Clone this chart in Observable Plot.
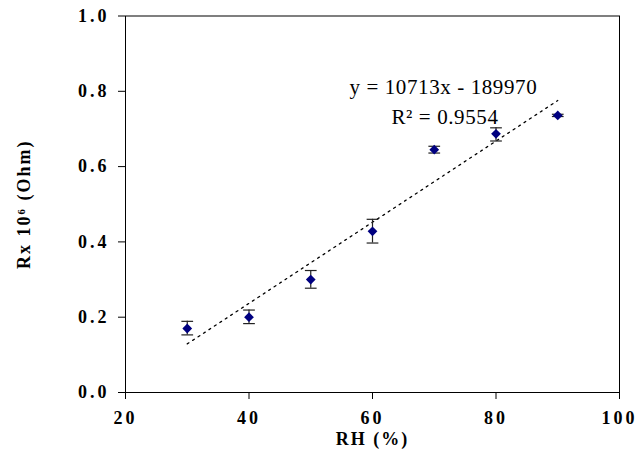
<!DOCTYPE html>
<html>
<head>
<meta charset="utf-8">
<script src="https://cdn.jsdelivr.net/npm/d3@7"></script>
<script src="https://cdn.jsdelivr.net/npm/@observablehq/plot@0.6"></script>
<style>
  html, body { margin: 0; padding: 0; background: #fff; }
  .tickbold text { font-weight: 700 !important; font-family: 'Liberation Serif', 'Times New Roman', serif; }
</style>
</head>
<body>
<div id="chart"></div>
<script>
// Relative humidity (%)
const rh = [30, 40, 50, 60, 70, 80, 90];
// Resistance (x 10^6 Ohm)
const resistance = [0.170, 0.200, 0.300, 0.428, 0.645, 0.687, 0.736];
const errLow  = [0.153, 0.183, 0.277, 0.397, 0.636, 0.668, 0.733];
const errHigh = [0.189, 0.219, 0.324, 0.460, 0.654, 0.703, 0.739];
const xTicks = [20, 40, 60, 80, 100];
const yTicks = [0, 0.2, 0.4, 0.6, 0.8, 1.0];
const equationText = "y = 10713x - 189970";
const r2Text = "R\u00B2 = 0.9554";

const data = rh.map((x, i) => ({x, y: resistance[i], lo: errLow[i], hi: errHigh[i]}));

const font = "'Liberation Serif', 'Times New Roman', serif";

const chart = Plot.plot({
  width: 638,
  height: 452,
  marginLeft: 125,
  marginRight: 19,
  marginTop: 15.5,
  marginBottom: 60,
  style: {fontFamily: font, background: "#fff", color: "#000", overflow: "visible"},
  x: {domain: [20, 100]},
  y: {domain: [0, 1]},
  marks: [
    Plot.frame({stroke: "#000", strokeWidth: 1}),
    Plot.axisY({
      ticks: yTicks, tickFormat: d3.format(".1f"), tickSize: 7, tickPadding: 9,
      fontSize: 18, className: "tickbold",
      label: null
    }),
    Plot.axisY({
      ticks: [], tickSize: 0,
      label: "Rx 10\u2076 (Ohm)", labelAnchor: "center", labelOffset: 108, labelArrow: "none"
    }),
    Plot.axisX({
      ticks: xTicks, tickFormat: d3.format("d"), tickSize: 7, tickPadding: 12,
      fontSize: 18, className: "tickbold",
      label: null
    }),
    Plot.axisX({
      ticks: [], tickSize: 0,
      label: "RH (%)", labelAnchor: "center", labelOffset: 52, labelArrow: "none"
    }),
    Plot.linearRegressionY(data, {x: "x", y: "y", ci: 0, stroke: "#000", strokeWidth: 1.3, strokeDasharray: "2,4.5"}),
    Plot.ruleX(data, {x: "x", y1: "lo", y2: "hi", stroke: "#222", strokeWidth: 1.2}),
    Plot.link(data, {x1: d => d.x - 0.95, x2: d => d.x + 0.95, y1: "lo", y2: "lo", stroke: "#222", strokeWidth: 1.2}),
    Plot.link(data, {x1: d => d.x - 0.95, x2: d => d.x + 0.95, y1: "hi", y2: "hi", stroke: "#222", strokeWidth: 1.2}),
    Plot.dot(data, {x: "x", y: "y", symbol: "diamond2", r: 4.4, fill: "#000080", stroke: "none"}),
    Plot.text([equationText], {frameAnchor: "top-left", dx: 224, dy: 71.5, textAnchor: "start", lineAnchor: "middle", fontSize: 21, fill: "#000"}),
    Plot.text([r2Text], {frameAnchor: "top-left", dx: 266, dy: 101, textAnchor: "start", lineAnchor: "middle", fontSize: 21, fill: "#000"})
  ]
});

const svg = d3.select(chart);
svg.selectAll(".tickbold text")
  .attr("font-weight", "bold").style("font-weight", "700").style("letter-spacing", "3px");
svg.selectAll("g[aria-label='y-axis label'] text, g[aria-label='x-axis label'] text")
  .style("font-weight", "bold").style("font-size", "18px").style("letter-spacing", "2px");
svg.selectAll("g[aria-label='text'] text").style("letter-spacing", "0.6px");

document.getElementById("chart").appendChild(chart);
</script>
</body>
</html>
